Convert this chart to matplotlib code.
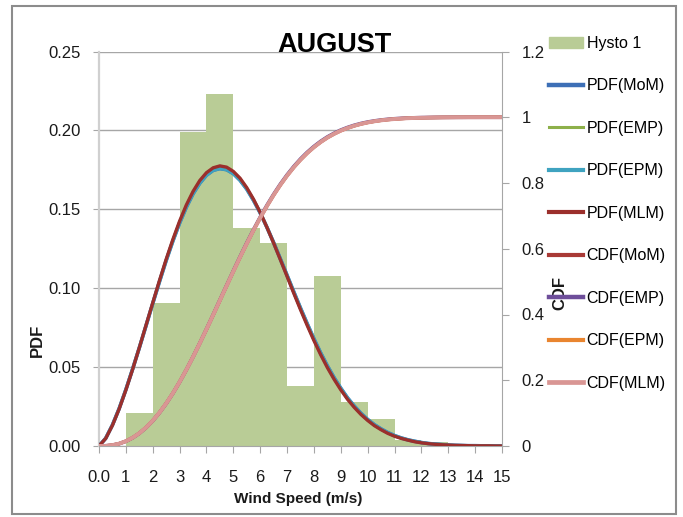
import numpy as np
import matplotlib
matplotlib.use("Agg")
import matplotlib.pyplot as plt
import matplotlib.patches as patches
from matplotlib.lines import Line2D

plt.rcParams['font.family'] = ['Liberation Sans', 'DejaVu Sans']

# histogram (bins of 1 m/s)
bin_left = [0, 1, 2, 3, 4, 5, 6, 7, 8, 9, 10, 11, 12, 13, 14]
hist_vals = [0.0, 0.0207, 0.0908, 0.1988, 0.2229, 0.1383, 0.1285, 0.0380, 0.1077,
             0.0281, 0.0171, 0.0040, 0.0027, 0.0, 0.0]

# wind speed grid for the fitted curves (read every 0.25 m/s)
ws = [0.0, 0.25, 0.5, 0.75, 1.0, 1.25, 1.5, 1.75, 2.0, 2.25, 2.5, 2.75, 3.0, 3.25, 3.5, 3.75,
      4.0, 4.25, 4.5, 4.75, 5.0, 5.25, 5.5, 5.75, 6.0, 6.25, 6.5, 6.75, 7.0, 7.25, 7.5, 7.75,
      8.0, 8.25, 8.5, 8.75, 9.0, 9.25, 9.5, 9.75, 10.0, 10.25, 10.5, 10.75, 11.0, 11.25, 11.5,
      11.75, 12.0, 12.25, 12.5, 12.75, 13.0, 13.25, 13.5, 13.75, 14.0, 14.25, 14.5, 14.75, 15.0]

pdf_mom = [0, .0049, .0133, .0237, .0357, .0487, .0622, .0762, .0903, .1041, .1175, .1299,
           .1413, .1513, .1598, .1665, .1716, .1747, .1758, .1751, .1726, .1684, .1628, .1557,
           .1477, .1386, .1289, .1186, .1082, .0977, .0874, .0775, .0679, .0590, .0508, .0433,
           .0366, .0305, .0253, .0207, .0168, .0135, .0108, .0085, .0066, .0051, .0039, .0030,
           .0022, .0016, .0012, .0009, .0006, .0004, .0003, .0002, .0002, .0001, .0001, 0, 0]
pdf_mlm = [0, .0048, .0131, .0235, .0355, .0485, .0623, .0765, .0907, .1048, .1183, .1309,
           .1425, .1527, .1613, .1682, .1732, .1763, .1775, .1767, .1740, .1697, .1637, .1564,
           .1480, .1386, .1286, .1181, .1075, .0968, .0864, .0764, .0668, .0579, .0497, .0423,
           .0356, .0296, .0245, .0200, .0162, .0129, .0103, .0080, .0062, .0048, .0037, .0027,
           .0020, .0015, .0011, .0008, .0006, .0004, .0003, .0002, .0001, .0001, .0001, 0, 0]
pdf_emp = list(pdf_mlm)
pdf_epm = list(pdf_mom)

cdf_mlm = [0, .0005, .0027, .0072, .0146, .0251, .0389, .0562, .0771, .1016, .1295, .1606,
           .1948, .2317, .2711, .3123, .3550, .3987, .4430, .4873, .5312, .5742, .6159, .6559,
           .6940, .7298, .7633, .7941, .8223, .8478, .8707, .8911, .9089, .9245, .9380, .9494,
           .9592, .9673, .9740, .9796, .9841, .9877, .9906, .9929, .9946, .9960, .9971, .9979,
           .9985, .9989, .9992, .9995, .9996, .9997, .9998, .9999, .9999, 1.0, 1.0, 1.0, 1.0]
cdf_emp = [0, .0005, .0026, .0070, .0143, .0247, .0384, .0557, .0765, .1011, .1290, .1603,
           .1945, .2317, .2712, .3127, .3556, .3995, .4441, .4885, .5327, .5759, .6178, .6580,
           .6962, .7322, .7657, .7966, .8248, .8503, .8732, .8935, .9113, .9268, .9402, .9514,
           .9611, .9690, .9757, .9811, .9855, .9889, .9917, .9938, .9955, .9967, .9977, .9984,
           .9989, .9992, .9995, .9997, .9998, .9999, .9999, 1.0, 1.0, 1.0, 1.0, 1.0, 1.0]
cdf_mom = list(cdf_mlm)
cdf_epm = list(cdf_mlm)

x_ticks = list(range(16))
x_ticklabels = ['0.0'] + [str(i) for i in range(1, 16)]
pdf_ticks = [0.0, 0.05, 0.10, 0.15, 0.20, 0.25]
cdf_ticks = [0, 0.2, 0.4, 0.6, 0.8, 1.0, 1.2]
cdf_ticklabels = ['0', '0.2', '0.4', '0.6', '0.8', '1', '1.2']

W, H = 683, 517
fig = plt.figure(figsize=(W / 100, H / 100), dpi=100)
ax = fig.add_axes([99 / W, 1 - 446 / H, 403 / W, 394.5 / H])
ax2 = ax.twinx()

grid_c = '#A6A6A6'
txt_c = '#1a1a1a'

ax.bar(bin_left, hist_vals, width=1.0, align='edge', color='#B9CC96', linewidth=0, zorder=2)

pdf_lines = []
pdf_lines.append(ax.plot(ws, pdf_mom, color='#3D6FB6', lw=2.6, zorder=3)[0])
pdf_lines.append(ax.plot(ws, pdf_emp, color='#8DB04A', lw=1.6, zorder=3)[0])
pdf_lines.append(ax.plot(ws, pdf_epm, color='#3FA3C0', lw=2.4, zorder=3)[0])
pdf_lines.append(ax.plot(ws, pdf_mlm, color='#9B2F2C', lw=2.4, zorder=3)[0])

cdf_lines = []
cdf_lines.append(ax2.plot(ws, cdf_mom, color='#A93A36', lw=2.4)[0])
cdf_lines.append(ax2.plot(ws, cdf_emp, color='#6E4E9A', lw=2.6)[0])
cdf_lines.append(ax2.plot(ws, cdf_epm, color='#E9852F', lw=2.4)[0])
cdf_lines.append(ax2.plot(ws, cdf_mlm, color='#D99694', lw=2.8)[0])

ax.set_xlim(0, 15)
ax.set_ylim(0, 0.25)
ax2.set_ylim(0, 1.2)

ax.set_xticks(x_ticks)
ax.set_xticklabels(x_ticklabels)
ax.set_yticks(pdf_ticks)
ax.set_yticklabels(['%.2f' % v for v in pdf_ticks])
ax2.set_yticks(cdf_ticks)
ax2.set_yticklabels(cdf_ticklabels)

ax.set_axisbelow(True)
ax.yaxis.grid(True, color=grid_c, lw=1.0)
ax.xaxis.grid(False)

for s in ['top', 'right']:
    ax.spines[s].set_visible(False)
ax.spines['left'].set_color('#D0D0D0')
ax.spines['left'].set_linewidth(1.6)
ax.spines['bottom'].set_color(grid_c)
for s in ['top', 'left', 'bottom']:
    ax2.spines[s].set_visible(False)
ax2.spines['right'].set_color(grid_c)

ax.tick_params(axis='y', direction='out', length=4, color=grid_c, pad=9,
               labelsize=12, labelcolor=txt_c)
ax.tick_params(axis='x', direction='out', length=5, color=grid_c, pad=12,
               labelsize=12, labelcolor=txt_c)
ax2.tick_params(axis='y', direction='out', length=5, color=grid_c, pad=9,
                labelsize=12, labelcolor=txt_c)

fig.text(334 / W, 1 - 52 / H, 'AUGUST', fontsize=19.5, fontweight='bold',
         ha='center', va='baseline', color='black')
fig.text(298 / W, 1 - 503 / H, 'Wind Speed (m/s)', fontsize=11, fontweight='bold',
         ha='center', va='baseline', color=txt_c)
fig.text(37.5 / W, 1 - 340 / H, 'PDF', rotation=90, fontsize=12, fontweight='bold',
         ha='center', va='center', color=txt_c)

hist_handle = patches.Patch(color='#B9CC96')
labels = ['Hysto 1', 'PDF(MoM)', 'PDF(EMP)', 'PDF(EPM)', 'PDF(MLM)',
          'CDF(MoM)', 'CDF(EMP)', 'CDF(EPM)', 'CDF(MLM)']
handles = [hist_handle] + [Line2D([], [], color=l.get_color(), lw=l.get_linewidth() + 0.6)
                           for l in pdf_lines + cdf_lines]
fig.legend(handles, labels, loc='upper left', bbox_to_anchor=(549 / W, 1 - 36 / H),
           frameon=False, borderpad=0, borderaxespad=0, handlelength=2.15,
           handletextpad=0.2, labelspacing=1.72, prop={'size': 11.5})

fig.text(560 / W, 1 - 293 / H, 'CDF', rotation=90, fontsize=12, fontweight='bold',
         ha='center', va='center', color=txt_c)

# chart border
fig.add_artist(patches.Rectangle((12 / W, 3 / H), 664 / W, 508 / H, transform=fig.transFigure,
                                 fill=False, edgecolor='#8C8C8C', lw=1.5))

fig.savefig('out.png', dpi=100)
